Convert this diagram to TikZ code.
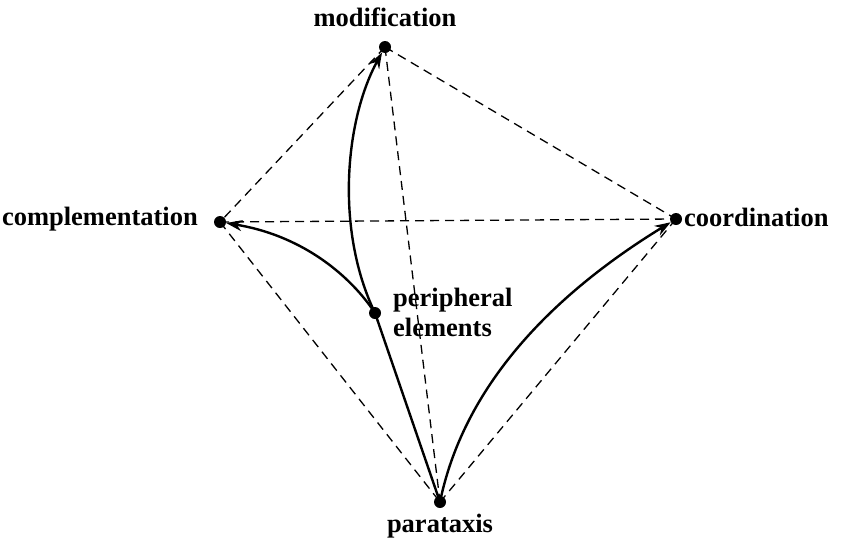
\documentclass[tikz,border=0pt]{standalone}
\usepackage{fontspec}
\setmainfont{Liberation Serif}
\usetikzlibrary{arrows.meta}
\begin{document}
\begin{tikzpicture}[x=1pt,y=-1pt,
  dot/.style={circle,fill=black,inner sep=0pt,minimum size=12pt},
  lbl/.style={font=\bfseries\fontsize{26.5}{30}\selectfont,inner sep=0pt},
  frame/.style={dash pattern=on 9pt off 6pt,line width=1.3pt},
  flow/.style={line width=2.4pt,-{Stealth[length=16pt,width=11pt]}},
  plain/.style={line width=2.4pt}]
\useasboundingbox (0,0) rectangle (842,544);
% the four corners and the centre point
\node[dot] (mod) at (385,47) {};
\node[dot] (comp) at (220,222) {};
\node[dot] (coord) at (676,219) {};
\node[dot] (para) at (440,502) {};
\node[dot] (peri) at (375,313) {};
% labels
\node[lbl] (modl) at (385,17) {modification};
\node[lbl,anchor=east] (compl) at (198,219) {complementation};
\node[lbl,anchor=west] (coordl) at (684,217) {coordination};
\node[lbl] (paral) at (440,526) {parataxis};
\node[lbl,anchor=west,align=left] (peril) at (393,312) {peripheral\\elements};
% dashed frame
\draw[frame] (mod.center) -- (comp.center);
\draw[frame] (mod.center) -- (coord.center);
\draw[frame] (mod.center) -- (para.center);
\draw[frame] (comp.center) -- (coord.center);
\draw[frame] (comp.center) -- (para.center);
\draw[frame] (coord.center) -- (para.center);
% solid connections
\draw[plain] (para.center) -- (peri.center);
\draw[flow] (peri.center) .. controls (352,278) and (305,236) .. (comp);
\draw[flow] (peri.center) .. controls (335,230) and (345,120) .. (mod);
\draw[flow] (para.center) .. controls (465,380) and (560,290) .. (coord);
\end{tikzpicture}
\end{document}
